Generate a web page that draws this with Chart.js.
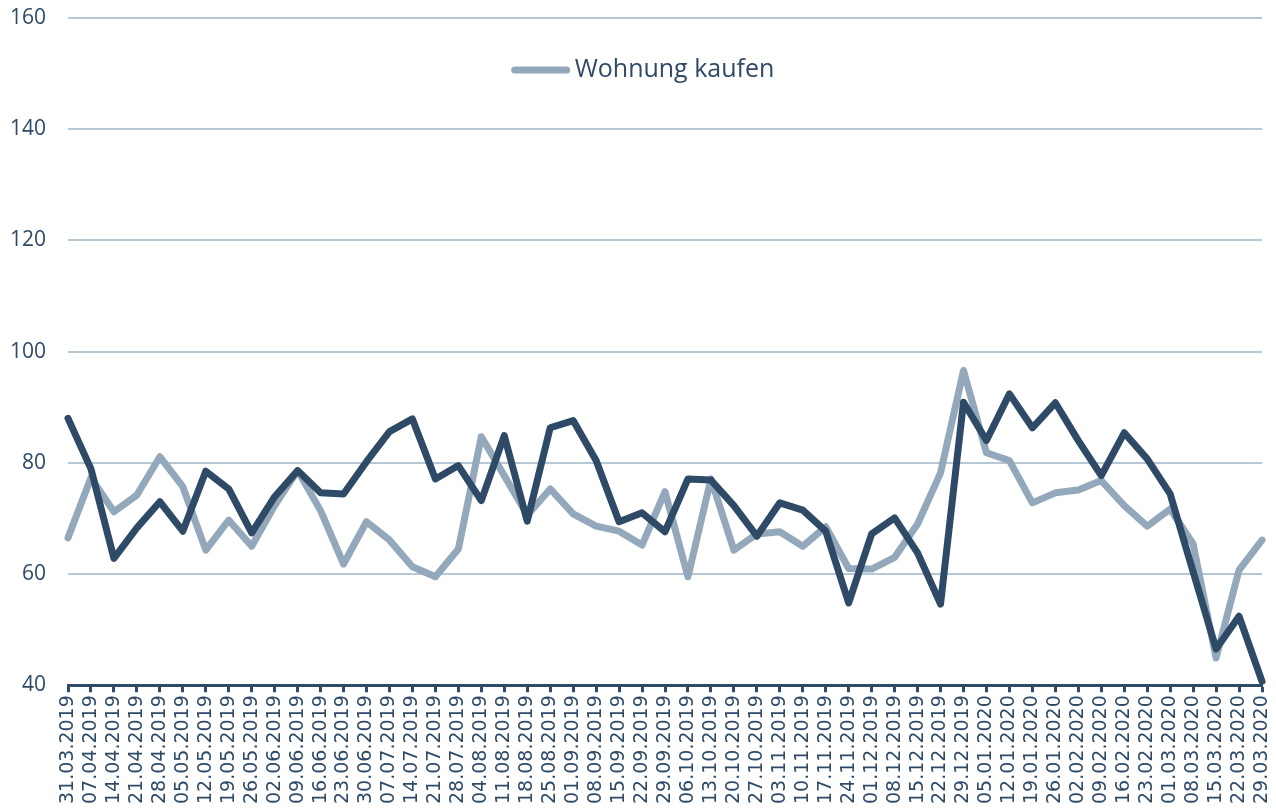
<!DOCTYPE html>
<html>
<head>
<meta charset="utf-8">
<script src="https://cdn.jsdelivr.net/npm/chart.js@4.4.1/dist/chart.umd.min.js"></script>
<style>
  html, body { margin: 0; padding: 0; background: #fff; }
  #wrap { width: 1276px; height: 811px; }
</style>
</head>
<body>
<div id="wrap"><canvas id="chart" width="1276" height="811"></canvas></div>
<script>
// Weekly dates, 31.03.2019 - 29.03.2020
const weeks = [
  '31.03.2019','07.04.2019','14.04.2019','21.04.2019','28.04.2019','05.05.2019','12.05.2019',
  '19.05.2019','26.05.2019','02.06.2019','09.06.2019','16.06.2019','23.06.2019','30.06.2019',
  '07.07.2019','14.07.2019','21.07.2019','28.07.2019','04.08.2019','11.08.2019','18.08.2019',
  '25.08.2019','01.09.2019','08.09.2019','15.09.2019','22.09.2019','29.09.2019','06.10.2019',
  '13.10.2019','20.10.2019','27.10.2019','03.11.2019','10.11.2019','17.11.2019','24.11.2019',
  '01.12.2019','08.12.2019','15.12.2019','22.12.2019','29.12.2019','05.01.2020','12.01.2020',
  '19.01.2020','26.01.2020','02.02.2020','09.02.2020','16.02.2020','23.02.2020','01.03.2020',
  '08.03.2020','15.03.2020','22.03.2020','29.03.2020'
];

// light series (shown in legend)
const wohnungKaufen = [
  66.5, 77.3, 71.2, 74.2, 81.1, 75.7, 64.3, 69.7, 65.0, 72.3,
  78.6, 71.4, 61.8, 69.4, 66.1, 61.3, 59.5, 64.5, 84.7, 77.7,
  70.6, 75.3, 70.8, 68.6, 67.7, 65.2, 74.8, 59.5, 77.1, 64.3,
  67.2, 67.6, 65.0, 68.5, 61.0, 60.9, 63.0, 69.0, 78.2, 96.6,
  81.8, 80.4, 72.8, 74.6, 75.1, 76.8, 72.3, 68.6, 71.7, 65.4,
  44.9, 60.7, 66.1
];

// dark series (no legend entry)
const zweiteReihe = [
  88.0, 78.9, 62.8, 68.3, 73.0, 67.7, 78.5, 75.3, 67.4, 73.9,
  78.6, 74.6, 74.4, 80.2, 85.6, 87.9, 77.1, 79.5, 73.2, 84.9,
  69.5, 86.3, 87.6, 80.4, 69.4, 71.0, 67.6, 77.1, 76.9, 72.3,
  66.8, 72.8, 71.5, 67.7, 54.8, 67.2, 70.1, 63.8, 54.6, 90.9,
  84.0, 92.4, 86.3, 90.8, 84.0, 77.7, 85.4, 80.7, 74.4, 60.4,
  46.5, 52.4, 40.7
];

const yMin = 40;
const yMax = 160;
const yStep = 20;

const darkBlue = '#2e4a66';
const lightBlue = '#94a8bb';
const gridBlue = '#b6c7d6';

// legend sits inside the plot, near the top
const inlineLegend = {
  id: 'inlineLegend',
  afterDatasetsDraw(chart) {
    const ctx = chart.ctx;
    const ds = chart.data.datasets[0];
    const area = chart.chartArea;
    ctx.save();
    ctx.font = '25px "Open Sans"';
    const lineW = 58;
    const gap = 5;
    const textW = ctx.measureText(ds.label).width;
    const total = lineW + gap + textW;
    const x0 = (area.left + area.right) / 2 - total / 2 - 22;
    const y = area.top + 52;
    ctx.strokeStyle = ds.borderColor;
    ctx.lineWidth = 7;
    ctx.lineCap = 'round';
    ctx.beginPath();
    ctx.moveTo(x0 + 3, y);
    ctx.lineTo(x0 + lineW - 3, y);
    ctx.stroke();
    ctx.fillStyle = darkBlue;
    ctx.textBaseline = 'middle';
    ctx.fillText(ds.label, x0 + lineW + gap, y);
    ctx.restore();
  }
};

new Chart(document.getElementById('chart'), {
  type: 'line',
  data: {
    labels: weeks,
    datasets: [
      {
        label: 'Wohnung kaufen',
        data: wohnungKaufen,
        borderColor: lightBlue,
        backgroundColor: lightBlue,
        borderWidth: 7,
        borderCapStyle: 'round',
        borderJoinStyle: 'round',
        pointRadius: 0,
        tension: 0,
        order: 1
      },
      {
        label: '',
        data: zweiteReihe,
        borderColor: darkBlue,
        backgroundColor: darkBlue,
        borderWidth: 7,
        borderCapStyle: 'round',
        borderJoinStyle: 'round',
        pointRadius: 0,
        tension: 0,
        order: 0
      }
    ]
  },
  plugins: [inlineLegend],
  options: {
    responsive: false,
    animation: false,
    clip: false,
    layout: { padding: { left: 10, right: 14, top: 18, bottom: 4 } },
    plugins: {
      tooltip: { enabled: false },
      legend: { display: false }
    },
    scales: {
      x: {
        offset: false,
        afterFit: scale => { scale.paddingLeft = 0; scale.paddingRight = 0; },
        grid: {
          display: true,
          drawOnChartArea: false,
          drawTicks: true,
          tickLength: 7,
          tickWidth: 3,
          tickColor: darkBlue
        },
        border: { display: true, color: darkBlue, width: 3 },
        ticks: {
          autoSkip: false,
          maxRotation: 90,
          minRotation: 90,
          padding: 3,
          color: darkBlue,
          font: { family: 'DejaVu Sans', size: 19 }
        }
      },
      y: {
        min: yMin,
        max: yMax,
        afterFit: scale => { scale.width = 58; scale.paddingTop = 0; scale.paddingBottom = 0; },
        grid: { color: gridBlue, lineWidth: 2, drawTicks: false },
        border: { display: false },
        ticks: {
          stepSize: yStep,
          padding: 22,
          color: darkBlue,
          font: { family: 'Open Sans', size: 21 }
        }
      }
    }
  }
});
</script>
</body>
</html>
